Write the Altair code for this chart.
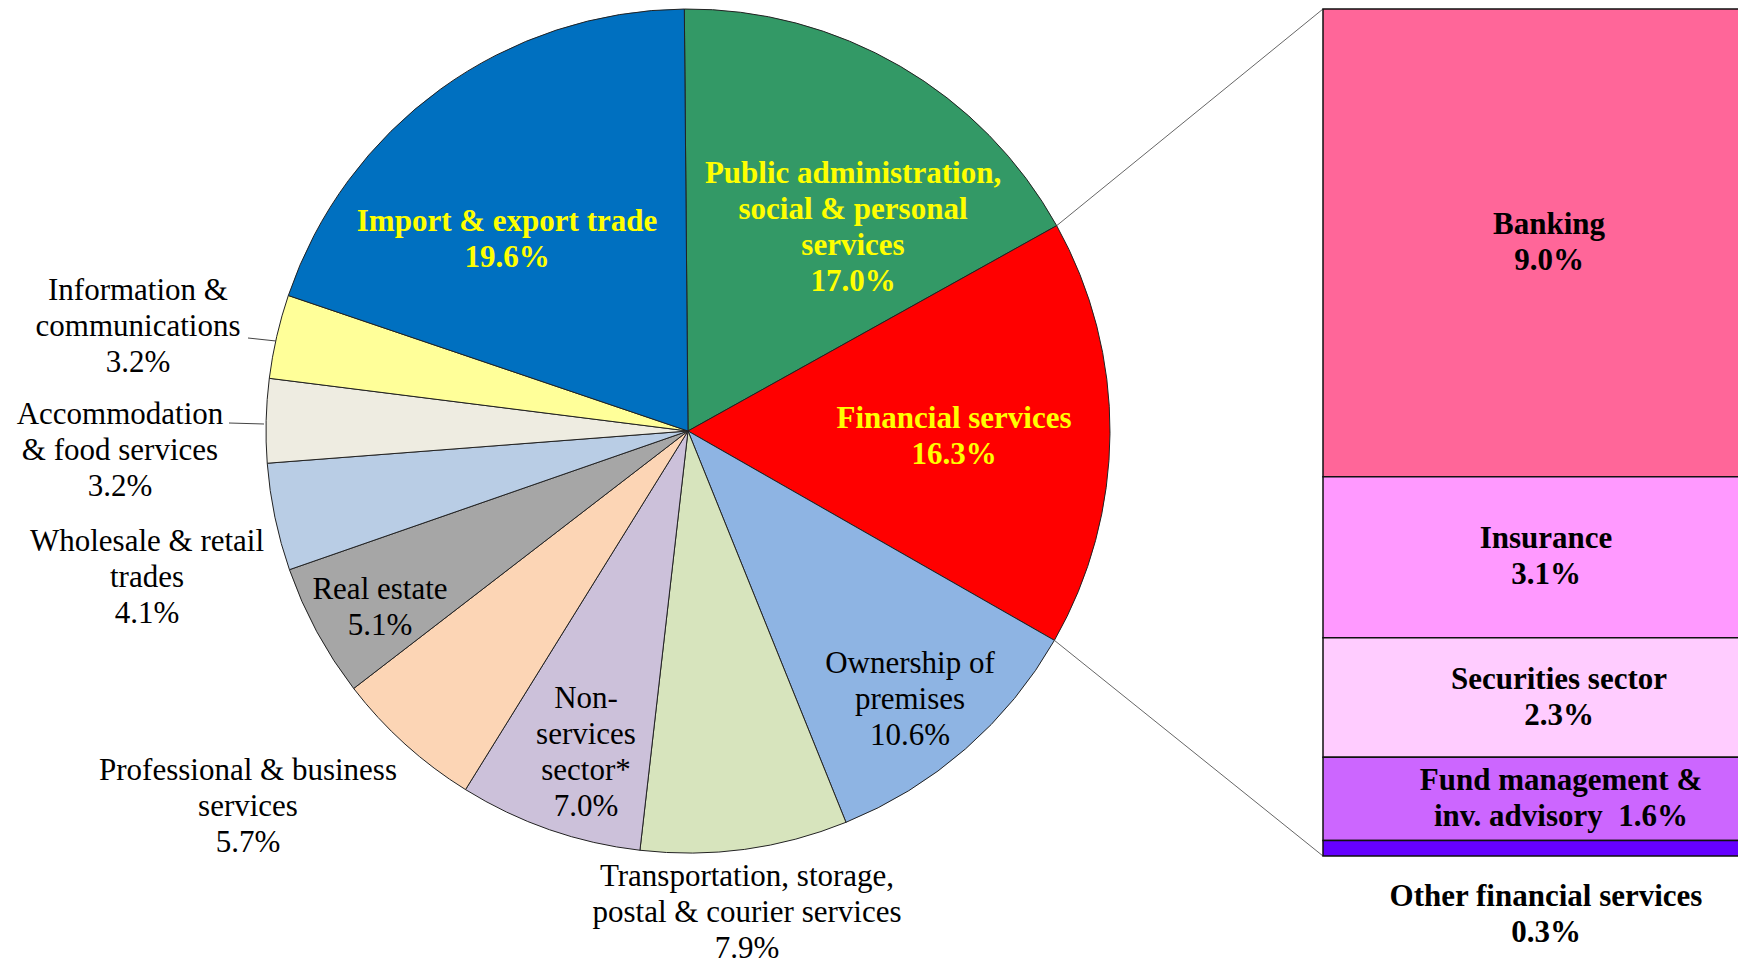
import math
import altair as alt
import pandas as pd

# ---------------- data ----------------
sectors = [
    "Public administration, social & personal services",
    "Financial services",
    "Ownership of premises",
    "Transportation, storage, postal & courier services",
    "Non-services sector*",
    "Professional & business services",
    "Real estate",
    "Wholesale & retail trades",
    "Accommodation & food services",
    "Information & communications",
    "Import & export trade",
]
shares = [17.0, 16.3, 10.6, 7.9, 7.0, 5.7, 5.1, 4.1, 3.2, 3.2, 19.6]
sector_labels = [
    "Public administration,\nsocial & personal\nservices\n17.0%",
    "Financial services\n16.3%",
    "Ownership of\npremises\n10.6%",
    "Transportation, storage,\npostal & courier services\n7.9%",
    "Non-\nservices\nsector*\n7.0%",
    "Professional & business\nservices\n5.7%",
    "Real estate\n5.1%",
    "Wholesale & retail\ntrades\n4.1%",
    "Accommodation\n& food services\n3.2%",
    "Information &\ncommunications\n3.2%",
    "Import & export trade\n19.6%",
]
highlight = [True, True, False, False, False, False, False, False, False, False, True]

fin_names = ["Banking", "Insurance", "Securities sector",
             "Fund management & inv. advisory", "Other financial services"]
fin_shares = [9.0, 3.1, 2.3, 1.6, 0.3]
fin_labels = ["Banking\n9.0%", "Insurance\n3.1%", "Securities sector\n2.3%",
              "Fund management &\ninv. advisory\u00a0 1.6%", "Other financial services\n0.3%"]

# ---------------- styles / layout ----------------
sector_colors = ["#339966", "#FF0000", "#8EB4E3", "#D7E4BD", "#CCC1DA", "#FCD5B5",
                 "#A6A6A6", "#B9CDE5", "#EEECE1", "#FFFF99", "#0070C0"]
fin_colors = ["#FF6699", "#FF99FF", "#FFCCFF", "#CC66FF", "#6600FF"]

W, H = 1730, 954
CX, CY, R = 680, 423, 422
START = math.radians(-0.5)
# offsets (from pie centre) of the first line of each label
LABEL_DX = [165, 266, 222, 59, -102, -440, -308, -541, -568, -550, -181]
LABEL_DY = [-257, -12, 233, 446, 268, 340, 159, 111, -16, -140, -209]
BAR_X0, BAR_X1, BAR_TOP, BAR_BOT = 1315, W + 200, 1, 848
BAR_LABEL_X = [1541, 1538, 1551, 1553, 1538]
OTHER_LABEL_Y = 889
FONT = "Liberation Serif"
FS = 31
LH = 36

# ---------------- tables ----------------
pie = pd.DataFrame({
    "sector": sectors, "value": shares, "idx": list(range(len(sectors))),
    "label": sector_labels,
    "lx": [CX + d for d in LABEL_DX], "ly": [CY + d for d in LABEL_DY],
    "bold": highlight,
})
fin = pd.DataFrame({
    "name": fin_names, "value": fin_shares, "label": fin_labels,
    "ord": [4, 3, 2, 1, 0], "lx": BAR_LABEL_X,
})

theta_scale = alt.Scale(range=[START, START + 2 * math.pi])
y_bar_scale = alt.Scale(domain=[0, sum(fin_shares)], range=[BAR_BOT, BAR_TOP])

arcs = alt.Chart(pie).mark_arc(outerRadius=R, stroke="#222222", strokeWidth=1).encode(
    theta=alt.Theta("value:Q", stack=True, scale=theta_scale),
    color=alt.Color("sector:N", scale=alt.Scale(domain=sectors, range=sector_colors), legend=None),
    order=alt.Order("idx:Q"),
    x=alt.value(CX), y=alt.value(CY),
)

def pie_text(bold):
    return alt.Chart(pie).transform_filter(
        alt.datum.bold if bold else ~alt.datum.bold
    ).mark_text(
        font=FONT, fontSize=FS, lineHeight=LH, lineBreak="\n",
        fontWeight="bold" if bold else "normal",
        color="#FFFF00" if bold else "#000000",
        align="center", baseline="middle",
    ).encode(
        x=alt.X("lx:Q", scale=None, axis=None),
        y=alt.Y("ly:Q", scale=None, axis=None),
        text="label:N",
    )

# connector geometry derived from the pie stack (financial slice boundaries)
total = sum(shares)
a_start = START + 2 * math.pi * shares[0] / total
a_end = START + 2 * math.pi * (shares[0] + shares[1]) / total
p1 = (CX + R * math.sin(a_start), CY - R * math.cos(a_start))
p2 = (CX + R * math.sin(a_end), CY - R * math.cos(a_end))

one = pd.DataFrame({"k": [0]})
conn_top = alt.Chart(one).mark_rule(color="#666666", strokeWidth=1).encode(
    x=alt.value(p1[0]), y=alt.value(p1[1]), x2=alt.value(BAR_X0), y2=alt.value(BAR_TOP))
conn_bot = alt.Chart(one).mark_rule(color="#666666", strokeWidth=1).encode(
    x=alt.value(p2[0]), y=alt.value(p2[1]), x2=alt.value(BAR_X0), y2=alt.value(BAR_BOT))

# short leader lines for two outside labels
lead1 = alt.Chart(one).mark_rule(color="#444444", strokeWidth=1).encode(
    x=alt.value(240), y=alt.value(330), x2=alt.value(268), y2=alt.value(333))
lead2 = alt.Chart(one).mark_rule(color="#444444", strokeWidth=1).encode(
    x=alt.value(221), y=alt.value(415), x2=alt.value(256), y2=alt.value(416))

stacked = alt.Chart(fin).transform_stack(
    stack="value", groupby=[], as_=["v0", "v1"], sort=[alt.SortField("ord")]
)

bars = stacked.mark_rect(stroke="#111111", strokeWidth=1.5).encode(
    y=alt.Y("v1:Q", scale=y_bar_scale, axis=None),
    y2="v0:Q",
    color=alt.Color("name:N", scale=alt.Scale(domain=fin_names, range=fin_colors), legend=None),
    x=alt.value(BAR_X0), x2=alt.value(BAR_X1),
)

bar_text = stacked.transform_calculate(mid="(datum.v0 + datum.v1) / 2").transform_filter(
    alt.datum.ord > 0
).mark_text(
    font=FONT, fontSize=FS, lineHeight=LH, lineBreak="\n", fontWeight="bold",
    color="#000000", align="center", baseline="middle", dy=-LH / 2,
).encode(
    y=alt.Y("mid:Q", scale=y_bar_scale, axis=None),
    x=alt.X("lx:Q", scale=None, axis=None),
    text="label:N",
)

other_text = alt.Chart(fin).transform_filter(alt.datum.ord == 0).mark_text(
    font=FONT, fontSize=FS, lineHeight=LH, lineBreak="\n", fontWeight="bold",
    color="#000000", align="center", baseline="middle",
).encode(x=alt.X("lx:Q", scale=None, axis=None), y=alt.value(OTHER_LABEL_Y), text="label:N")

chart = alt.layer(
    arcs, conn_top, conn_bot, lead1, lead2, bars,
    pie_text(True), pie_text(False), bar_text, other_text,
).resolve_scale(
    x="independent", y="independent", color="independent", theta="independent"
).properties(
    width=W, height=H, padding=0, autosize=alt.AutoSizeParams(type="none"),
).configure_view(stroke=None)

chart.save("out.html", embed_options={"renderer": "svg", "actions": False})
